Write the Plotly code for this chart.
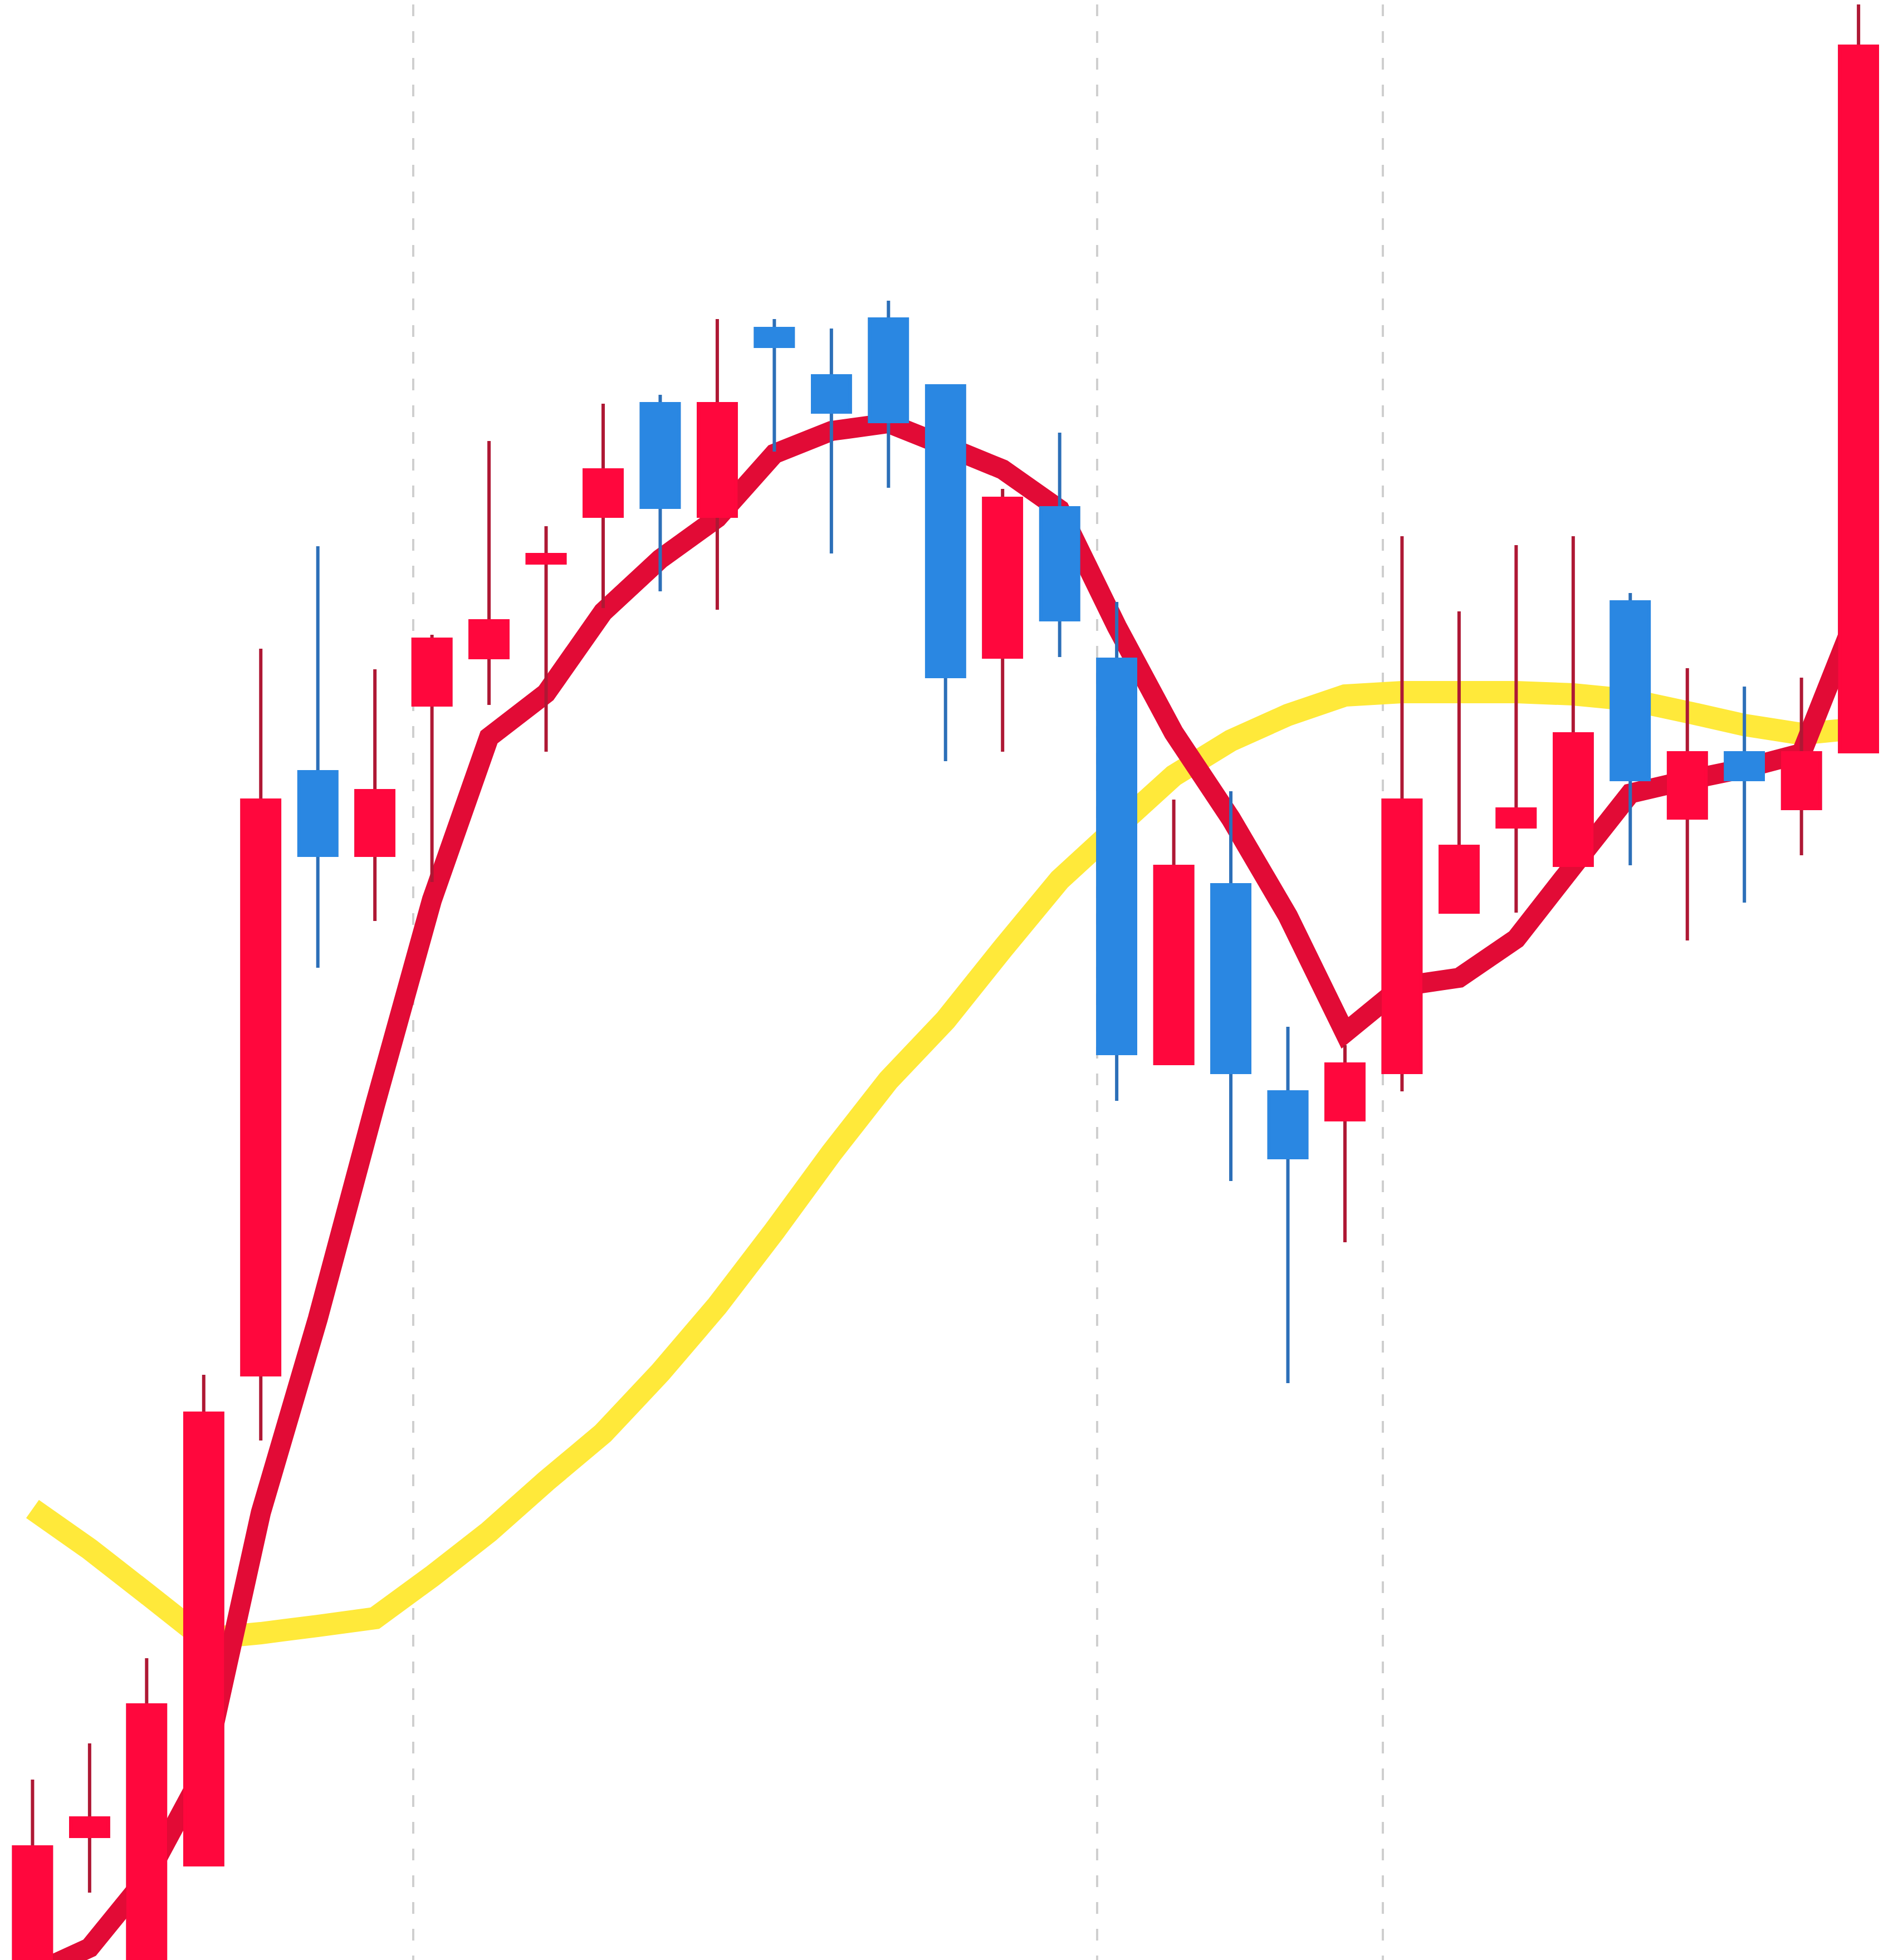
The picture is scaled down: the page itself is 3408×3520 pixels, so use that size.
import plotly.graph_objects as go

# ---- data (price units) ----
days = list(range(1, 34))

open_ = [46.0, 61.1, 48.0, 58.55, 102.55, 156.7, 149.2, 162.7, 166.95, 175.45,
         179.65, 189.75, 179.65, 196.5, 192.25, 197.35, 191.35, 167.0, 180.4, 166.8,
         130.5, 146.55, 127.95, 125.45, 129.7, 144.1, 151.75, 148.3, 171.95, 152.55,
         158.4, 153.4, 158.5]
high_ = [66.2, 69.45, 77.1, 102.55, 167.75, 176.95, 165.9, 169.0, 186.4, 178.75,
         189.75, 190.55, 197.35, 197.35, 196.5, 199.0, 191.35, 182.1, 187.15, 171.95,
         154.2, 154.95, 133.8, 132.15, 177.85, 171.1, 177.05, 177.85, 172.75, 166.0,
         164.35, 165.15, 227.5]
low_ = [45.0, 56.05, 47.0, 58.55, 96.65, 139.1, 143.3, 146.8, 162.7, 158.5,
        171.4, 172.9, 171.25, 185.45, 176.3, 182.2, 157.65, 158.5, 167.0, 127.15,
        130.5, 119.95, 101.8, 114.45, 128.0, 144.1, 144.05, 148.3, 148.3, 141.55,
        144.95, 149.2, 158.5]
close_ = [60.15, 62.75, 72.9, 99.1, 154.15, 149.2, 155.0, 168.6, 170.25, 176.2,
          183.8, 180.45, 189.75, 194.9, 189.0, 188.15, 165.25, 181.25, 170.35, 131.4,
          148.2, 129.7, 122.05, 130.45, 154.15, 150.0, 153.35, 160.1, 156.0, 158.4,
          156.0, 158.4, 221.85]

ma_fast = [48.75, 51.1, 57.4, 66.95, 90.15, 107.6, 126.75, 145.2, 159.8, 163.75,
           171.05, 175.8, 179.5, 185.25, 187.3, 188.0, 185.95, 183.85, 180.25, 169.75,
           160.2, 152.5, 143.75, 133.25, 137.45, 138.2, 141.7, 148.25, 154.75, 155.95,
           157.0, 158.35, 171.25]
ma_slow = [90.5, 86.9, 82.9, 78.85, 79.35, 80.0, 80.7, 84.45, 88.45, 93.0,
           97.3, 102.75, 108.75, 115.45, 122.45, 129.0, 134.4, 140.8, 147.0, 151.7,
           156.35, 159.5, 161.8, 163.55, 163.85, 163.85, 163.85, 163.65, 163.15, 162.05,
           160.9, 160.1, 160.6]

grid_marks = [7.67, 19.66, 24.66]

# ---- styles ----
UP = "#FF073D"
DOWN = "#2A87E2"
UP_WICK = "#AE1834"
DOWN_WICK = "#2C6FB8"
X_RANGE = [0.508, 33.77]
Y_RANGE = [49.6, 225.6]

body_hi = [max(o, c) for o, c in zip(open_, close_)]
body_lo = [min(o, c) for o, c in zip(open_, close_)]

fig = go.Figure()

# moving averages on the base subplot (below candles)
fig.add_trace(go.Scatter(x=days, y=ma_slow, mode="lines",
                         line=dict(color="#FFE93A", width=40, simplify=False),
                         showlegend=False, xaxis="x", yaxis="y"))
fig.add_trace(go.Scatter(x=days, y=ma_fast, mode="lines",
                         line=dict(color="#E20B36", width=36, simplify=False),
                         showlegend=False, xaxis="x", yaxis="y"))

# candles on an overlaying subplot (drawn above the lines)
fig.add_trace(go.Candlestick(
    x=days, open=open_, high=high_, low=low_, close=close_,
    increasing=dict(line=dict(color=UP_WICK, width=6), fillcolor=UP),
    decreasing=dict(line=dict(color=DOWN_WICK, width=6), fillcolor=DOWN),
    whiskerwidth=0, showlegend=False, xaxis="x2", yaxis="y2"))
fig.add_trace(go.Candlestick(
    x=days, open=open_, high=body_hi, low=body_lo, close=close_,
    increasing=dict(line=dict(color=UP, width=6), fillcolor=UP),
    decreasing=dict(line=dict(color=DOWN, width=6), fillcolor=DOWN),
    whiskerwidth=0, showlegend=False, xaxis="x2", yaxis="y2"))

fig.update_layout(
    width=3408, height=3520,
    margin=dict(l=0, r=0, t=0, b=0),
    paper_bgcolor="white", plot_bgcolor="white",
    boxgap=0.34, boxgroupgap=0,
    showlegend=False,
    xaxis=dict(range=X_RANGE, tickvals=grid_marks, showticklabels=False, ticks="",
               showgrid=True, gridcolor="#CFCFCF", gridwidth=4, griddash="21px,27px",
               zeroline=False, showline=False, rangeslider=dict(visible=False)),
    yaxis=dict(range=Y_RANGE, showgrid=False, showticklabels=False, ticks="",
               zeroline=False, showline=False),
    xaxis2=dict(range=X_RANGE, overlaying="x", visible=False, showgrid=False,
                zeroline=False, rangeslider=dict(visible=False)),
    yaxis2=dict(range=Y_RANGE, overlaying="y", visible=False, showgrid=False,
                zeroline=False),
)

fig.write_html("out.html")
